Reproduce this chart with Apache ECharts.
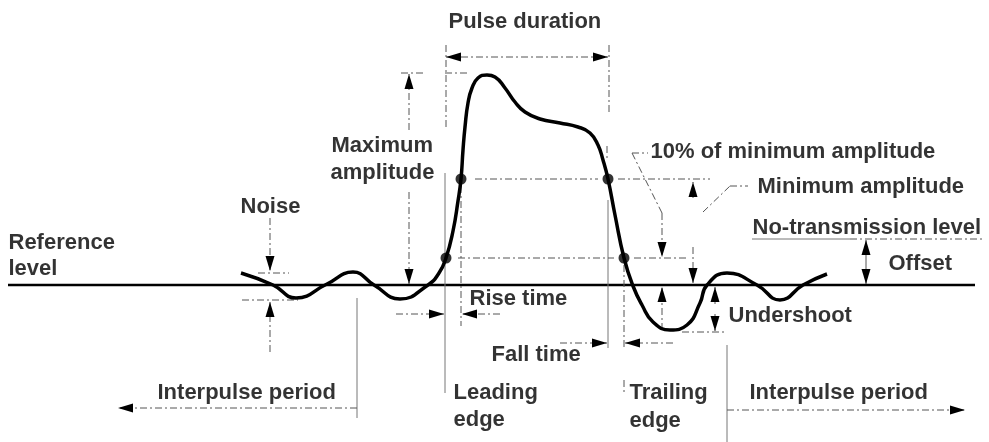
<!DOCTYPE html>
<html>
<head>
<meta charset="utf-8">
<script src="https://cdn.jsdelivr.net/npm/echarts@6/dist/echarts.min.js"></script>
<style>
  html, body { margin: 0; padding: 0; background: #fff; }
  #chart { width: 989px; height: 442px; }
</style>
</head>
<body>
<div id="chart"></div>
<script>
// diagram units: x to the right, y downward, reference level at y = 285
const pulseX = [241, 273, 296, 327, 353, 374, 400, 428, 439,
  446, 453, 458, 461, 463, 465, 468, 472, 478, 487, 495, 505, 515, 525, 540, 560, 578, 590, 598, 603,
  608, 615, 624, 633, 642, 653, 670, 687, 700, 707, 727, 757, 780, 803, 827]
const pulseY = [273, 285, 298, 284, 272, 285, 299, 285, 273,
  258, 231, 201, 179, 150, 127, 103, 88, 78, 75, 77, 88, 102, 112, 119, 123, 127, 133, 145, 160,
  179, 215, 258, 286, 305, 322, 330, 325, 303, 285, 273, 285, 300, 285, 274]

// 10% / 90% crossing points on both edges
const markerX = [446, 461, 608, 624]
const markerY = [258, 179, 179, 258]

const referenceLine = [[8, 285, 975, 285]]

const solidRules = [
  [357, 298, 357, 418],
  [445, 173, 445, 393],
  [608, 200, 608, 348],
  [727, 345, 727, 442],
  [752, 239, 850, 239]
]

const guideLines = [
  [446, 45, 446, 130],
  [609, 45, 609, 112],
  [607, 146, 607, 160],
  [401, 73, 424, 73],
  [445, 73, 467, 73],
  [258, 273, 289, 273],
  [242, 300, 298, 300],
  [461, 186, 461, 326],
  [624, 265, 624, 350],
  [624, 380, 624, 392],
  [475, 179, 598, 179],
  [618, 179, 710, 179],
  [458, 258, 614, 258],
  [634, 258, 688, 258],
  [662, 213, 632, 153],
  [632, 153, 648, 153],
  [703, 212, 730, 186],
  [730, 186, 748, 186],
  [850, 239, 985, 239],
  [682, 332, 727, 332]
]

// from -> tip
const singleArrows = [
  [409, 130, 409, 74],
  [409, 192, 409, 284],
  [270, 218, 270, 271],
  [270, 352, 270, 302],
  [357, 408, 118, 408],
  [727, 410, 965, 410],
  [396, 314, 444, 314],
  [500, 314, 462, 314],
  [560, 343, 607, 343],
  [673, 343, 625, 343],
  [662, 213, 662, 257],
  [662, 330, 662, 287],
  [693, 198, 693, 182],
  [693, 247, 693, 283],
  [866, 262, 866, 240],
  [866, 262, 866, 284],
  [715, 304, 715, 287],
  [715, 314, 715, 331]
]

const doubleArrows = [[446, 57, 608, 57]]

const labelText = ['Pulse duration', 'Maximum', 'amplitude', 'Noise', 'Reference', 'level',
  '10% of minimum amplitude', 'Minimum amplitude', 'No-transmission level', 'Offset', 'Undershoot',
  'Rise time', 'Fall time', 'Interpulse period', 'Leading', 'edge', 'Trailing', 'edge', 'Interpulse period']
const labelX = [448, 331, 330, 240, 8, 8, 650, 757, 752, 888, 728, 469, 491, 157, 453, 453, 629, 629, 749]
const labelY = [22, 146, 173, 207, 243, 269, 152, 187, 228, 264, 316, 299, 355, 393, 393, 420, 393, 421, 393]

const chart = echarts.init(document.getElementById('chart'))

function arrowHead(tip, from) {
  const dx = tip[0] - from[0]
  const dy = tip[1] - from[1]
  const len = Math.hypot(dx, dy) || 1
  const ux = dx / len
  const uy = dy / len
  const bx = tip[0] - ux * 15
  const by = tip[1] - uy * 15
  return {
    type: 'polygon',
    shape: { points: [tip, [bx - uy * 4.5, by + ux * 4.5], [bx + uy * 4.5, by - ux * 4.5]] },
    style: { fill: '#000' }
  }
}

function segments(name, data, style, heads) {
  return {
    name,
    type: 'custom',
    data,
    silent: true,
    encode: { x: [0, 2], y: [1, 3] },
    renderItem: (params, api) => {
      const a = api.coord([api.value(0), api.value(1)])
      const b = api.coord([api.value(2), api.value(3)])
      const children = [{
        type: 'line',
        shape: { x1: a[0], y1: a[1], x2: b[0], y2: b[1] },
        style: Object.assign({ fill: null }, style)
      }]
      if (heads > 0) children.push(arrowHead(b, a))
      if (heads > 1) children.push(arrowHead(a, b))
      return { type: 'group', children }
    }
  }
}

const dashed = { stroke: '#555', lineWidth: 1, lineDash: [7, 3, 2, 3] }

const option = {
  animation: false,
  backgroundColor: '#fff',
  grid: { left: 0, right: 0, top: 0, bottom: 0 },
  xAxis: { type: 'value', min: 0, max: 989, show: false },
  yAxis: { type: 'value', min: 0, max: 442, inverse: true, show: false },
  series: [
    segments('reference', referenceLine, { stroke: '#000', lineWidth: 2.5 }, 0),
    segments('rules', solidRules, { stroke: '#777', lineWidth: 1 }, 0),
    segments('guides', guideLines, dashed, 0),
    segments('arrows', singleArrows, dashed, 1),
    segments('double', doubleArrows, dashed, 2),
    {
      name: 'pulse',
      type: 'line',
      data: pulseX.map((x, i) => [x, pulseY[i]]),
      smooth: 0.5,
      showSymbol: false,
      silent: true,
      lineStyle: { color: '#000', width: 3.5 }
    },
    {
      name: 'levels',
      type: 'scatter',
      data: markerX.map((x, i) => [x, markerY[i]]),
      symbolSize: 11,
      silent: true,
      itemStyle: { color: '#000' }
    },
    {
      name: 'labels',
      type: 'scatter',
      data: labelText.map((t, i) => [labelX[i], labelY[i], t]),
      symbolSize: 1,
      silent: true,
      itemStyle: { color: 'transparent' },
      label: {
        show: true,
        position: 'right',
        distance: 0,
        formatter: p => p.data[2],
        color: '#000',
        fontFamily: '"Liberation Sans", Arial, sans-serif',
        fontWeight: 'bold',
        fontSize: 22
      }
    }
  ]
}

chart.setOption(option)
</script>
</body>
</html>
